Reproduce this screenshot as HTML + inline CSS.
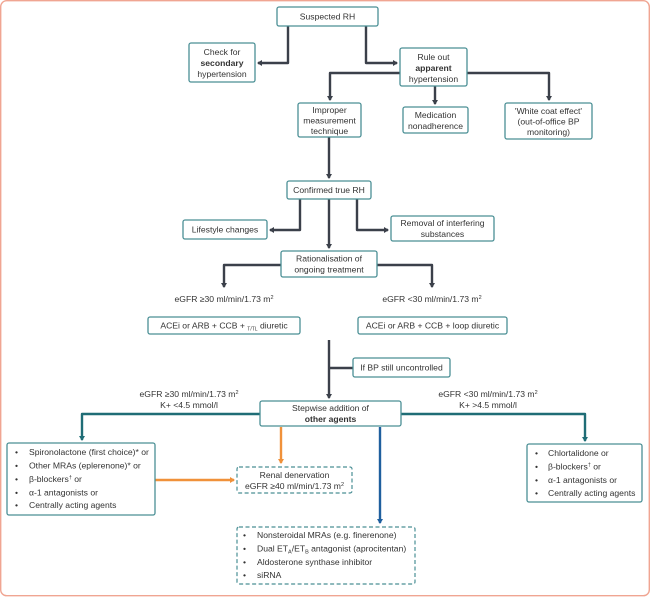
<!DOCTYPE html>
<html><head><meta charset="utf-8"><style>
html,body{margin:0;padding:0;background:#fff}
svg{display:block}
text{font-family:"Liberation Sans",sans-serif;font-size:8.6px;fill:#333;}
.b{fill:#fff;stroke:#4a8f95;stroke-width:1.3}
.d{fill:#fff;stroke:#4a8f95;stroke-width:1.2;stroke-dasharray:4 2.5}
.l{fill:none;stroke:#3b404a;stroke-width:2.4;stroke-linejoin:round}
.t{fill:none;stroke:#1f6d76;stroke-width:2.4;stroke-linejoin:round}
</style></head><body>
<svg width="650" height="598" viewBox="0 0 650 598" xmlns="http://www.w3.org/2000/svg">
<defs>
<marker id="a" markerWidth="6" markerHeight="6" refX="4" refY="3" orient="auto" markerUnits="userSpaceOnUse"><path d="M0,0 L5,3 L0,6z" fill="#3b404a"/></marker>
<marker id="at" markerWidth="6" markerHeight="6" refX="4" refY="3" orient="auto" markerUnits="userSpaceOnUse"><path d="M0,0 L5,3 L0,6z" fill="#1f6d76"/></marker>
<marker id="ao" markerWidth="6" markerHeight="6" refX="4" refY="3" orient="auto" markerUnits="userSpaceOnUse"><path d="M0,0 L5,3 L0,6z" fill="#f0913a"/></marker>
<marker id="ab" markerWidth="6" markerHeight="6" refX="4" refY="3" orient="auto" markerUnits="userSpaceOnUse"><path d="M0,0 L5,3 L0,6z" fill="#1f5f9e"/></marker>
</defs>
<rect x="0.7" y="0.7" width="648.6" height="595" rx="6" fill="#fff" stroke="#f0a592" stroke-width="1.4"/>

<!-- connectors -->
<path class="l" d="M288,26 V63 H258" marker-end="url(#a)"/>
<path class="l" d="M366,26 V63 H397" marker-end="url(#a)"/>
<path class="l" d="M400,73 H330 V100" marker-end="url(#a)"/>
<path class="l" d="M467,73 H549 V100" marker-end="url(#a)"/>
<path class="l" d="M435,86 V104" marker-end="url(#a)"/>
<path class="l" d="M329,137 V178" marker-end="url(#a)"/>
<path class="l" d="M300,199 V230 H270" marker-end="url(#a)"/>
<path class="l" d="M357,199 V230 H388" marker-end="url(#a)"/>
<path class="l" d="M329,199 V248" marker-end="url(#a)"/>
<path class="l" d="M281,265 H224 V287" marker-end="url(#a)"/>
<path class="l" d="M377,265 H432 V287" marker-end="url(#a)"/>
<path class="l" d="M329,340 V398" marker-end="url(#a)"/>
<path class="l" d="M329,368 H353"/>
<path class="t" d="M260,414 H82 V440" marker-end="url(#at)"/>
<path class="t" d="M401,414 H585 V441" marker-end="url(#at)"/>
<path fill="none" stroke="#f0913a" stroke-width="2.4" d="M281,427 V463" marker-end="url(#ao)"/>
<path fill="none" stroke="#f0913a" stroke-width="2.4" d="M155,480 H234" marker-end="url(#ao)"/>
<path fill="none" stroke="#1f5f9e" stroke-width="2.4" d="M380,427 V523" marker-end="url(#ab)"/>

<!-- boxes -->
<rect class="b" x="277" y="7" width="101" height="19" rx="2"/>
<text x="327.5" y="19.5" text-anchor="middle">Suspected RH</text>

<rect class="b" x="189" y="43" width="66" height="39" rx="2"/>
<text x="222" y="55" text-anchor="middle">Check for</text>
<text x="222" y="66" text-anchor="middle" font-weight="bold">secondary</text>
<text x="222" y="77" text-anchor="middle">hypertension</text>

<rect class="b" x="400" y="48" width="67" height="38" rx="2"/>
<text x="433.5" y="60" text-anchor="middle">Rule out</text>
<text x="433.5" y="71" text-anchor="middle" font-weight="bold">apparent</text>
<text x="433.5" y="82" text-anchor="middle">hypertension</text>

<rect class="b" x="298" y="103" width="63" height="34" rx="2"/>
<text x="329.5" y="113" text-anchor="middle">Improper</text>
<text x="329.5" y="123.5" text-anchor="middle">measurement</text>
<text x="329.5" y="134" text-anchor="middle">technique</text>

<rect class="b" x="403" y="107" width="65" height="26" rx="2"/>
<text x="435.5" y="118" text-anchor="middle">Medication</text>
<text x="435.5" y="129" text-anchor="middle">nonadherence</text>

<rect class="b" x="505" y="103" width="87" height="36" rx="2"/>
<text x="548.5" y="114" text-anchor="middle">'White coat effect'</text>
<text x="548.5" y="124.5" text-anchor="middle">(out-of-office BP</text>
<text x="548.5" y="135" text-anchor="middle">monitoring)</text>

<rect class="b" x="287" y="181" width="84" height="18" rx="2"/>
<text x="329" y="193" text-anchor="middle">Confirmed true RH</text>

<rect class="b" x="183" y="220" width="84" height="19" rx="2"/>
<text x="225" y="232.5" text-anchor="middle">Lifestyle changes</text>

<rect class="b" x="391" y="216" width="103" height="25" rx="2"/>
<text x="442.5" y="226" text-anchor="middle">Removal of interfering</text>
<text x="442.5" y="237" text-anchor="middle">substances</text>

<rect class="b" x="281" y="251" width="96" height="26" rx="2"/>
<text x="329" y="261.5" text-anchor="middle">Rationalisation of</text>
<text x="329" y="272.5" text-anchor="middle">ongoing treatment</text>

<text x="224" y="302" text-anchor="middle">eGFR ≥30 ml/min/1.73 m<tspan font-size="5.5" dy="-3">2</tspan></text>
<text x="432" y="302" text-anchor="middle">eGFR &lt;30 ml/min/1.73 m<tspan font-size="5.5" dy="-3">2</tspan></text>

<rect class="b" x="148" y="317" width="152" height="17" rx="2"/>
<text x="224" y="328.5" text-anchor="middle">ACEi or ARB + CCB + <tspan font-size="5" dy="2">T/TL</tspan><tspan dy="-2"> diuretic</tspan></text>
<rect class="b" x="358" y="317" width="149" height="17" rx="2"/>
<text x="432.5" y="328.5" text-anchor="middle">ACEi or ARB + CCB + loop diuretic</text>

<rect class="b" x="353" y="358" width="97" height="19" rx="2"/>
<text x="401.5" y="370.5" text-anchor="middle">If BP still uncontrolled</text>

<text x="189" y="397" text-anchor="middle">eGFR ≥30 ml/min/1.73 m<tspan font-size="5.5" dy="-3">2</tspan></text>
<text x="189" y="408" text-anchor="middle">K+ &lt;4.5 mmol/l</text>
<text x="488" y="397" text-anchor="middle">eGFR &lt;30 ml/min/1.73 m<tspan font-size="5.5" dy="-3">2</tspan></text>
<text x="488" y="408" text-anchor="middle">K+ &gt;4.5 mmol/l</text>

<rect class="b" x="260" y="401" width="141" height="25" rx="2"/>
<text x="330.5" y="411" text-anchor="middle">Stepwise addition of</text>
<text x="330.5" y="422" text-anchor="middle" font-weight="bold">other agents</text>

<rect class="b" x="7" y="443" width="148" height="72" rx="2"/>
<g>
<text x="15" y="455">•</text><text x="29" y="455">Spironolactone (first choice)* or</text>
<text x="15" y="468.5">•</text><text x="29" y="468.5">Other MRAs (eplerenone)* or</text>
<text x="15" y="482">•</text><text x="29" y="482">β-blockers<tspan font-size="5.5" dy="-3">†</tspan><tspan dy="3"> or</tspan></text>
<text x="15" y="495.5">•</text><text x="29" y="495.5">α-1 antagonists or</text>
<text x="15" y="508">•</text><text x="29" y="508">Centrally acting agents</text>
</g>

<rect class="d" x="237" y="467" width="115" height="26" rx="2"/>
<text x="294.5" y="478" text-anchor="middle">Renal denervation</text>
<text x="294.5" y="489" text-anchor="middle">eGFR ≥40 ml/min/1.73 m<tspan font-size="5.5" dy="-3">2</tspan></text>

<rect class="b" x="527" y="444" width="115" height="58" rx="2"/>
<text x="535" y="456">•</text><text x="548" y="456">Chlortalidone or</text>
<text x="535" y="469.5">•</text><text x="548" y="469.5">β-blockers<tspan font-size="5.5" dy="-3">†</tspan><tspan dy="3"> or</tspan></text>
<text x="535" y="483">•</text><text x="548" y="483">α-1 antagonists or</text>
<text x="535" y="496">•</text><text x="548" y="496">Centrally acting agents</text>

<rect class="d" x="237" y="527" width="178" height="57" rx="2"/>
<text x="243" y="538">•</text><text x="257" y="538">Nonsteroidal MRAs (e.g. finerenone)</text>
<text x="243" y="551.5">•</text><text x="257" y="551.5">Dual ET<tspan font-size="5.5" dy="2">A</tspan><tspan dy="-2">/ET</tspan><tspan font-size="5.5" dy="2">B</tspan><tspan dy="-2"> antagonist (aprocitentan)</tspan></text>
<text x="243" y="565">•</text><text x="257" y="565">Aldosterone synthase inhibitor</text>
<text x="243" y="578">•</text><text x="257" y="578">siRNA</text>
</svg>
</body></html>
